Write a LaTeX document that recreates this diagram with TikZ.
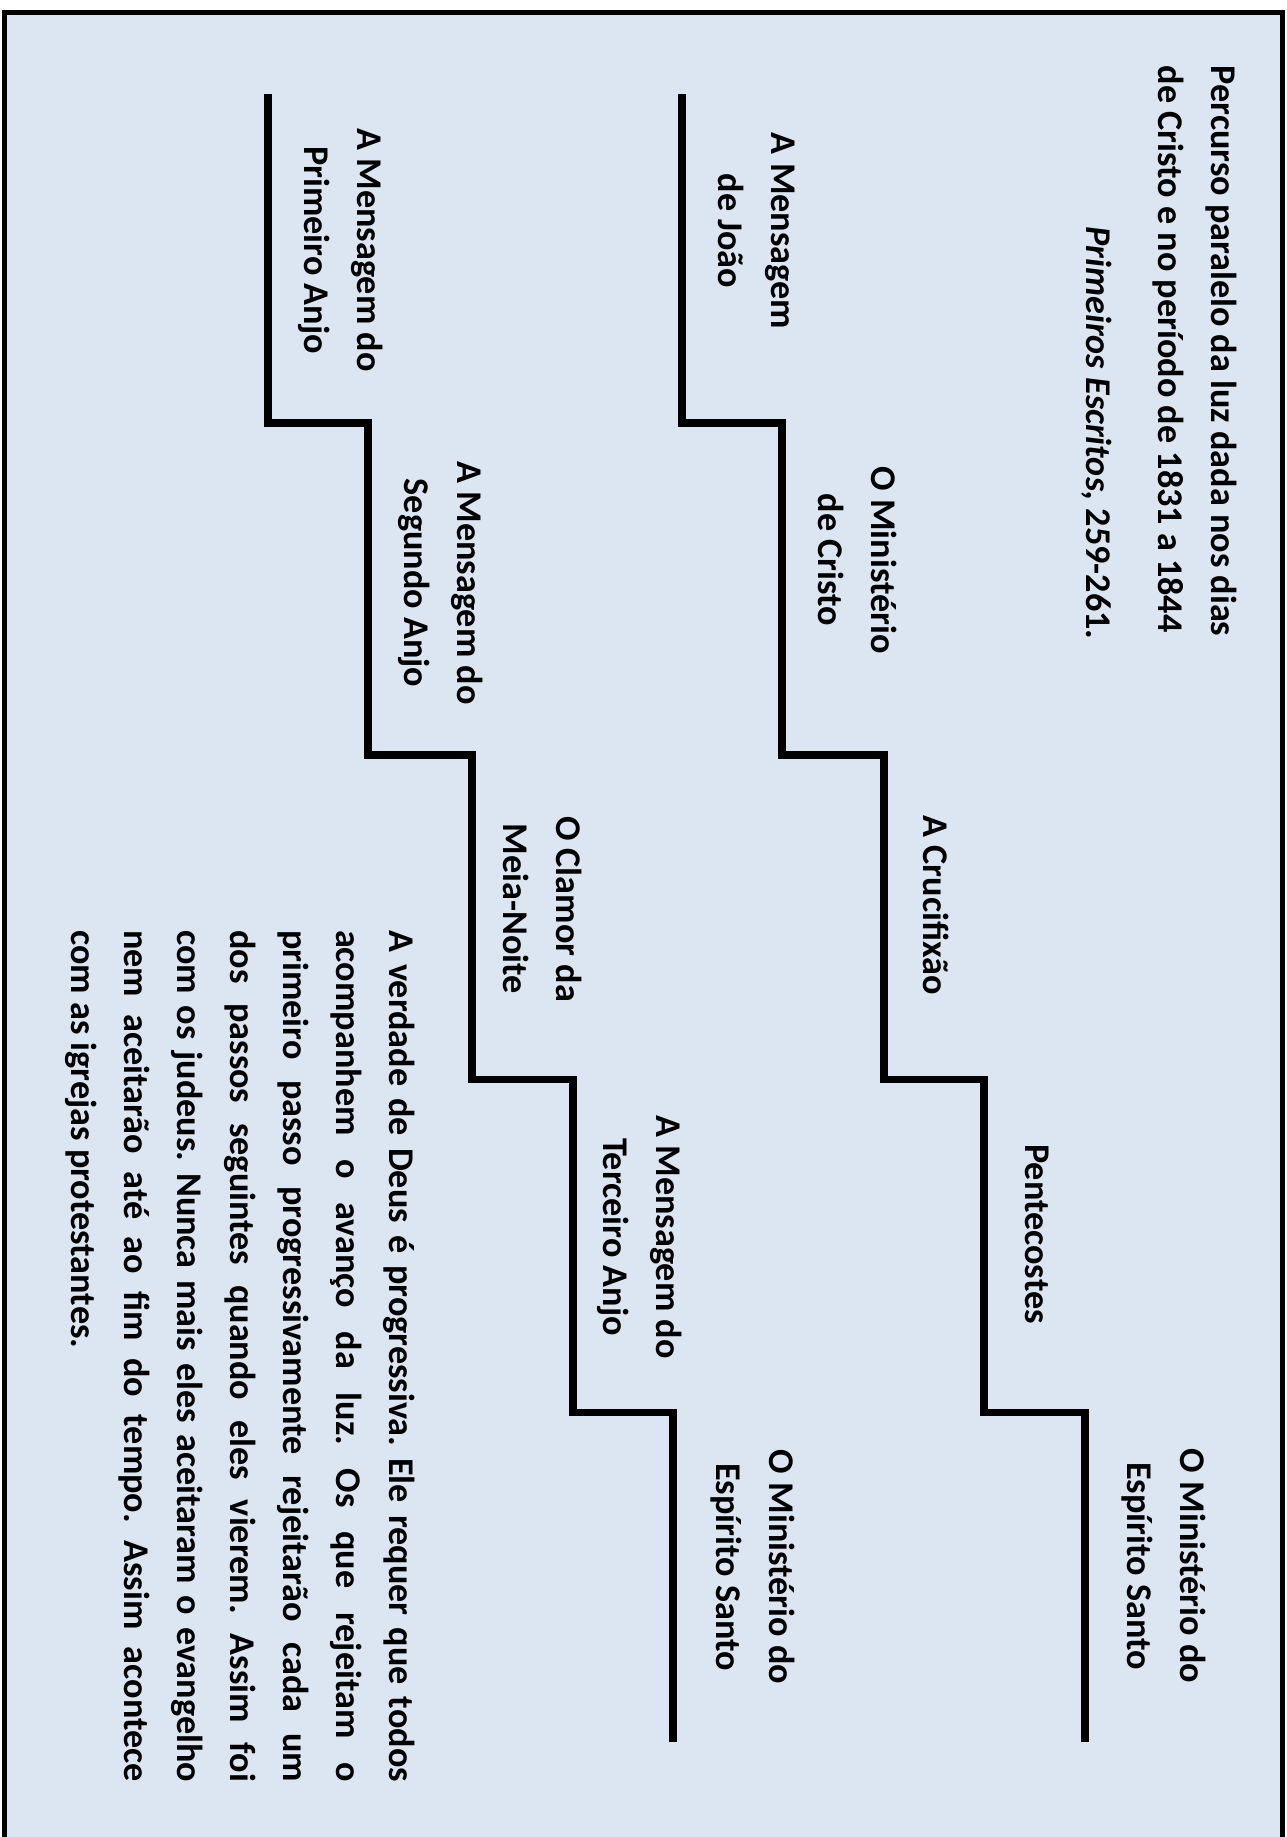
\documentclass[tikz,border=0pt]{standalone}
\usepackage{fontspec}
\setmainfont{Carlito}
\frenchspacing
\definecolor{panelc}{HTML}{DCE6F2}
\tikzset{
  frame/.style={line width=2.85pt},
  stair/.style={line width=4pt},
  lbl/.style={rotate=-90, align=center, inner sep=0pt,
              font=\bfseries\fontsize{20.6}{30.2}\selectfont},
  ttl/.style={lbl, align=left},
  para/.style={lbl, align=justify, text width=17.04cm},
}

\begin{document}
\begin{tikzpicture}[x=0.02cm, y=-0.02cm]
  \useasboundingbox (0,0) rectangle (1287,1837);
  % panel
  \fill[panelc] (4.5,12.5) rectangle (1282,1837);
  \draw[frame] (4.5,1837) -- (4.5,12.5) -- (1282,12.5) -- (1282,1837);
  % two staircases
  \draw[stair] (682,94) -- (682,423) -- (782,423) -- (782,755) -- (884,755)
    -- (884,1079) -- (984,1079) -- (984,1412) -- (1085,1412) -- (1085,1742);
  \draw[stair] (268,94) -- (268,423) -- (368,423) -- (368,755) -- (472,755)
    -- (472,1079) -- (573,1079) -- (573,1412) -- (673,1412) -- (673,1742);
  % title
  \node[ttl] (title) at (1195,351) {Percurso paralelo da luz dada nos dias\\de Cristo e no período de 1831 a 1844};
  \node[lbl] (ref) at (1097,433) {\itshape Primeiros Escritos, \upshape 259-261.};
  % upper steps
  \node[lbl] (joao) at (757,231) {A Mensagem\\de João};
  \node[lbl] (mincristo) at (858,560) {O Ministério\\de Cristo};
  \node[lbl] (cruz) at (936,905) {A Crucifixão};
  \node[lbl] (pente) at (1037,1234) {Pentecostes};
  \node[lbl] (espa) at (1164,1566) {O Ministério do\\Espírito Santo};
  % lower steps
  \node[lbl] (anjoa) at (341,250) {A Mensagem do\\Primeiro Anjo};
  \node[lbl] (anjob) at (441,583) {A Mensagem do\\Segundo Anjo};
  \node[lbl] (clamor) at (543,909) {O Clamor da\\Meia-Noite};
  \node[lbl] (anjoc) at (640,1237) {A Mensagem do\\Terceiro Anjo};
  \node[lbl] (espb) at (753,1567) {O Ministério do\\Espírito Santo};
  % note
  \node[para] (nota) at (240,1356) {A verdade de Deus é progressiva. Ele requer que todos\linebreak
    acompanhem o avanço da luz. Os que rejeitam o\linebreak
    primeiro passo progressivamente rejeitarão cada um\linebreak
    dos passos seguintes quando eles vierem. Assim foi\linebreak
    com os judeus. Nunca mais eles aceitaram o evangelho\linebreak
    nem aceitarão até ao fim do tempo. Assim acontece\linebreak
    com as igrejas protestantes.};
\end{tikzpicture}
\end{document}
